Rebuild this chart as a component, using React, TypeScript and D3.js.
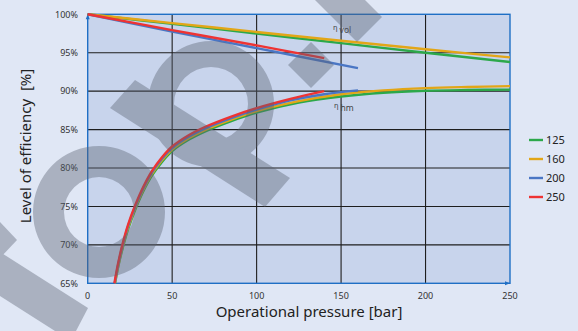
import React from "react";
import * as d3 from "d3";

// ---------- data ----------
const seriesNames = ["125", "160", "200", "250"];
const seriesColors = ["#2ca84a", "#e2a617", "#4a76c4", "#ee3333"];

// volumetric efficiency (eta vol)
const volP125 = [0, 50, 100, 150, 200, 250];
const vol125 = [100, 98.75, 97.5, 96.25, 95.0, 93.8];
const volP160 = [0, 50, 100, 150, 200, 250];
const vol160 = [100, 98.85, 97.7, 96.55, 95.45, 94.4];
const volP200 = [0, 50, 100, 160];
const vol200 = [100, 97.75, 95.6, 93.0];
const volP250 = [0, 50, 100, 140];
const vol250 = [100, 97.95, 95.95, 94.3];

// hydraulic-mechanical efficiency (eta hm)
const hmP125 = [16.2, 18, 20.5, 24, 28, 33, 38, 44, 50, 60, 70, 85, 100, 125, 150, 175, 200, 225, 250];
const hm125 = [65.0, 67.1, 69.4, 72.1, 74.5, 77.0, 79.0, 80.8, 82.2, 83.7, 84.8, 86.1, 87.2, 88.5, 89.3, 89.8, 90.05, 90.15, 90.2];
const hmP160 = [16.1, 18, 20.5, 24, 28, 33, 38, 44, 50, 60, 70, 85, 100, 125, 150, 175, 200, 225, 250];
const hm160 = [65.0, 67.2, 69.6, 72.3, 74.7, 77.2, 79.2, 81.0, 82.4, 83.9, 85.0, 86.3, 87.4, 88.7, 89.6, 90.1, 90.4, 90.55, 90.65];
const hmP200 = [16, 18, 20.5, 24, 28, 33, 38, 44, 50, 60, 70, 85, 100, 120, 140, 160];
const hm200 = [65.0, 67.4, 69.8, 72.5, 74.9, 77.4, 79.4, 81.2, 82.6, 84.1, 85.2, 86.5, 87.6, 88.8, 89.6, 90.1];
const hmP250 = [15.8, 18, 20.5, 24, 28, 33, 38, 44, 50, 60, 70, 85, 100, 120, 140];
const hm250 = [65.0, 67.6, 70.0, 72.7, 75.1, 77.6, 79.6, 81.4, 82.8, 84.3, 85.4, 86.7, 87.8, 89.0, 90.0];

const xTicks = [0, 50, 100, 150, 200, 250];
const yTicks = [65, 70, 75, 80, 85, 90, 95, 100];

const volSeries = [
  [volP125, vol125],
  [volP160, vol160],
  [volP200, vol200],
  [volP250, vol250],
];
const hmSeries = [
  [hmP125, hm125],
  [hmP160, hm160],
  [hmP200, hm200],
  [hmP250, hm250],
];

// ---------- layout ----------
const W = 578;
const H = 331;
const X0 = 87.7;
const X1 = 510;
const Y0 = 283.3;
const Y1 = 14.3;

const x = d3.scaleLinear().domain([0, 250]).range([X0, X1]);
const y = d3.scaleLinear().domain([65, 100]).range([Y0, Y1]);

const line = d3
  .line<[number, number]>()
  .x((d) => x(d[0]))
  .y((d) => y(d[1]))
  .curve(d3.curveCatmullRom.alpha(0.5));

function toPts(p: number[], v: number[]): [number, number][] {
  return p.map((pp, i) => [pp, v[i]]);
}

function ring(cx: number, cy: number, R: number, r: number) {
  return (
    `M${cx - R},${cy}a${R},${R} 0 1,0 ${2 * R},0a${R},${R} 0 1,0 ${-2 * R},0Z` +
    `M${cx - r},${cy}a${r},${r} 0 1,0 ${2 * r},0a${r},${r} 0 1,0 ${-2 * r},0Z`
  );
}

const watermarkPaths = [
  ring(99, 212, 66, 35),
  ring(211, 104, 63, 37),
  "M135,80L290,178L265,207L110,108Z",
  "M311,42L334,65L311,88L288,65Z",
  "M382,17L357,42L300,-15L325,-40Z",
  "M0,222L17,240L0,258Z",
  "M0,252L88,308L76,331L55,331L0,296Z",
];

const FONT = "'Noto Sans', 'DejaVu Sans', sans-serif";

export default function App() {
  return (
    <svg
      width={W}
      height={H}
      viewBox={`0 0 ${W} ${H}`}
      style={{ position: "absolute", left: 0, top: 0, display: "block" }}
      fontFamily={FONT}
    >
      <rect x={0} y={0} width={W} height={H} fill="#e0e7f5" />
      <rect x={X0} y={Y1} width={X1 - X0} height={Y0 - Y1} fill="#c8d4ec" />

      {/* grid */}
      {yTicks
        .filter((t) => t > 65 && t < 100)
        .map((t) => (
          <line key={"gy" + t} x1={X0} x2={X1} y1={y(t)} y2={y(t)} stroke="#1e1e1e" strokeWidth={1.1} />
        ))}
      {xTicks
        .filter((t) => t > 0 && t < 250)
        .map((t) => (
          <line key={"gx" + t} x1={x(t)} x2={x(t)} y1={Y1} y2={Y0} stroke="#1e1e1e" strokeWidth={1.1} />
        ))}

      {/* plot border */}
      <rect x={X0} y={Y1} width={X1 - X0} height={Y0 - Y1} fill="none" stroke="#1f6fc5" strokeWidth={1.4} />
      <path d={`M${X0 - 2},${Y1 + 5}L${X0},${Y1}L${X0 + 2},${Y1 + 5}Z`} fill="#1f6fc5" />
      <path d={`M${X1 - 5},${Y0 - 2}L${X1},${Y0}L${X1 - 5},${Y0 + 2}Z`} fill="#1f6fc5" />

      {/* curves */}
      {volSeries.map(([p, v], i) => (
        <path key={"v" + i} d={line(toPts(p, v)) || ""} fill="none" stroke={seriesColors[i]} strokeWidth={2.4} />
      ))}
      {hmSeries.map(([p, v], i) => (
        <path key={"h" + i} d={line(toPts(p, v)) || ""} fill="none" stroke={seriesColors[i]} strokeWidth={2.4} />
      ))}

      {/* eta labels */}
      <text x={333} y={30} fontSize={7.5} fill="#444">
        <tspan>η</tspan>
        <tspan dx={2} dy={3} fontSize={8.5}>vol</tspan>
      </text>
      <text x={334} y={108} fontSize={7.5} fill="#444">
        <tspan>η</tspan>
        <tspan dx={2} dy={3} fontSize={8.5}>hm</tspan>
      </text>

      {/* tick labels */}
      {yTicks.map((t) => (
        <text key={"yl" + t} x={78} y={y(t) + 3.2} fontSize={9} textAnchor="end" fill="#333">
          {t}%
        </text>
      ))}
      {xTicks.map((t) => (
        <text key={"xl" + t} x={x(t)} y={299} fontSize={9} textAnchor="middle" fill="#333">
          {t}
        </text>
      ))}

      {/* axis titles */}
      <text x={309} y={317} fontSize={15} textAnchor="middle" fill="#222">
        Operational pressure [bar]
      </text>
      <text
        transform={`translate(31,146) rotate(-90)`}
        fontSize={15}
        textAnchor="middle"
        fill="#222"
        style={{ whiteSpace: "pre" }}
      >
        {"Level of efficiency  [%]"}
      </text>

      {/* legend */}
      {seriesNames.map((n, i) => (
        <g key={"lg" + n} transform={`translate(0, ${140 + i * 19})`}>
          <line x1={529} x2={543} y1={0} y2={0} stroke={seriesColors[i]} strokeWidth={2.4} />
          <text x={546} y={4} fontSize={11} fill="#222">
            {n}
          </text>
        </g>
      ))}

      {/* watermark */}
      <g fill="#5a6272" opacity={0.4}>
        {watermarkPaths.map((d, i) => (
          <path key={"wm" + i} d={d} fillRule="evenodd" />
        ))}
      </g>
    </svg>
  );
}
